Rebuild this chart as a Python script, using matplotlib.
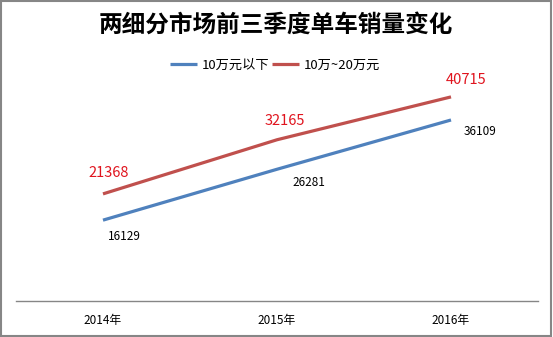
import matplotlib
matplotlib.use("Agg")
import matplotlib.pyplot as plt
from matplotlib.patches import Rectangle

plt.rcParams['font.family'] = ['Noto Sans CJK SC', 'DejaVu Sans']

categories = ["2014年", "2015年", "2016年"]
series_names = ["10万元以下", "10万~20万元"]
below_10w = [16129, 26281, 36109]
from_10w_to_20w = [21368, 32165, 40715]

title = "两细分市场前三季度单车销量变化"

blue = "#4F81BD"
red = "#C0504D"
label_red = "#E0141E"

# label offsets in pixels (style only)
blue_offsets = [(21, -16), (32, -13), (29, -12)]
red_offsets = [(6, 21), (8, 19), (15, 17)]

fig = plt.figure(figsize=(5.53, 3.37), dpi=100)
ax = fig.add_axes([0.0289, 0.1068, 0.944, 0.6694])

x = list(range(len(categories)))
ax.plot(x, below_10w, color=blue, lw=2.3, solid_capstyle='butt', label=series_names[0])
ax.plot(x, from_10w_to_20w, color=red, lw=2.3, solid_capstyle='butt', label=series_names[1])

for xi, v, off in zip(x, below_10w, blue_offsets):
    ax.annotate(str(v), (xi, v), xytext=off, textcoords='offset pixels',
                ha='center', va='center', fontsize=8.5, color='black')
for xi, v, off in zip(x, from_10w_to_20w, red_offsets):
    ax.annotate(str(v), (xi, v), xytext=off, textcoords='offset pixels',
                ha='center', va='center', fontsize=10.5, color=label_red)

ax.set_xlim(-0.5, 2.5)
ax.set_ylim(0, 45000)
ax.set_xticks(x)
ax.set_xticklabels(categories, fontsize=8.5)
ax.tick_params(axis='x', length=0, pad=9)
ax.set_yticks([])
for s in ['top', 'right', 'left']:
    ax.spines[s].set_visible(False)
ax.spines['bottom'].set_color('#868686')
ax.spines['bottom'].set_linewidth(1.0)

fig.text(0.499, 1 - 25 / 337, title, ha='center', va='center', fontsize=17, fontweight='bold')

leg = fig.legend(loc='center', bbox_to_anchor=(275 / 553, 1 - 65 / 337), ncol=2, frameon=False,
                 fontsize=9.5, handlelength=2.05, handletextpad=0.35, columnspacing=0.25)

fig.patches.append(Rectangle((0.001, 0.002), 0.996, 0.995, transform=fig.transFigure,
                             fill=False, edgecolor='#868686', linewidth=1.5))

fig.savefig("out.png", dpi=100)
